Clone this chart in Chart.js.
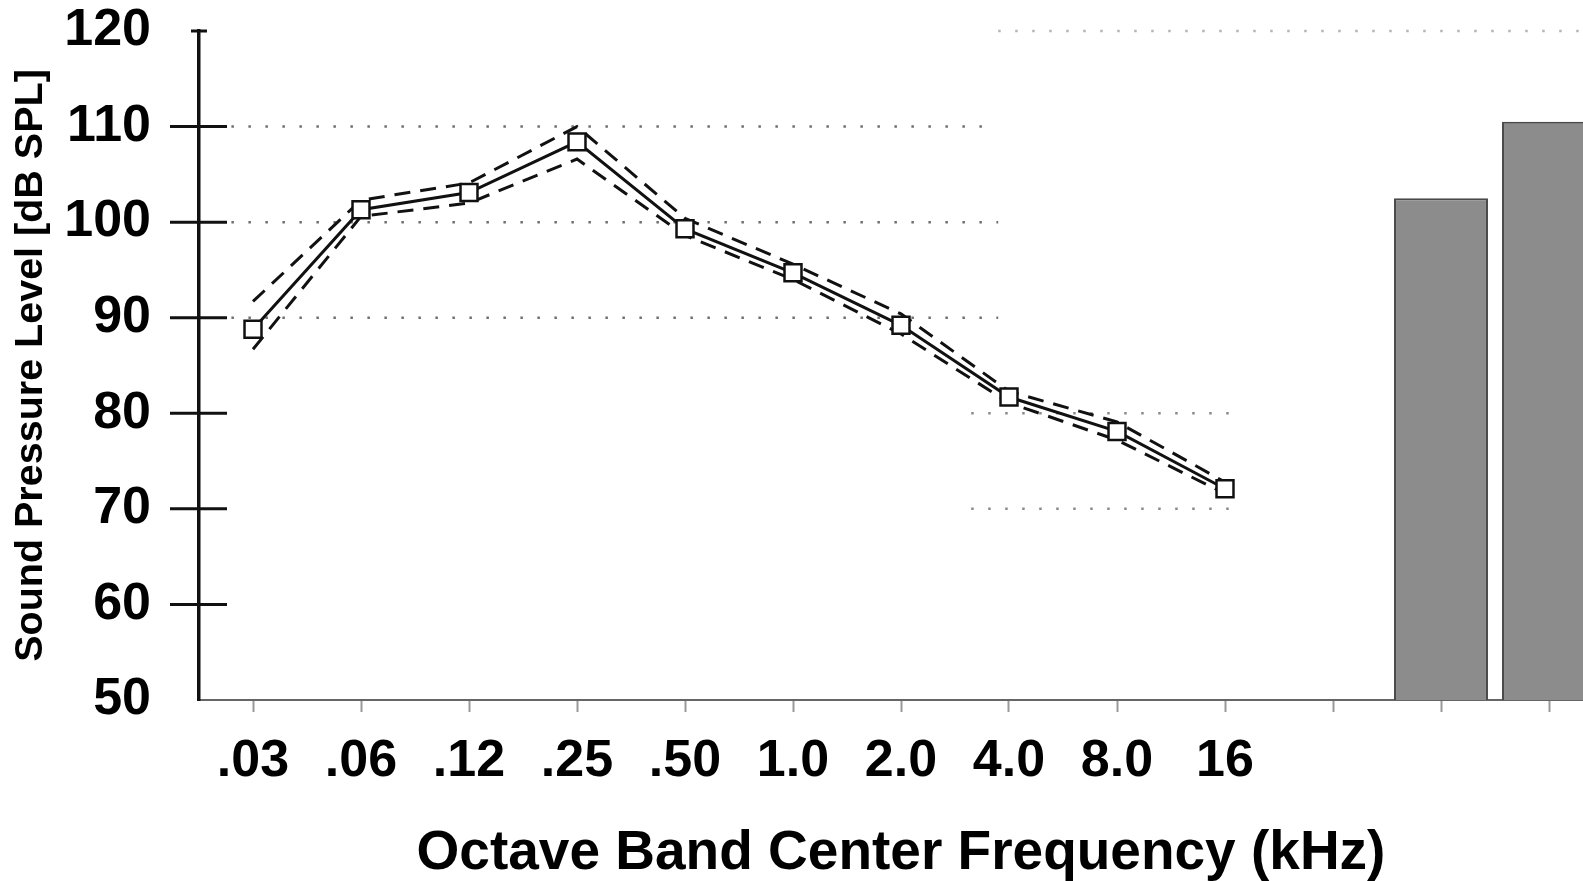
<!DOCTYPE html>
<html>
<head>
<meta charset="utf-8">
<title>Octave band sound pressure level</title>
<script src="https://cdn.jsdelivr.net/npm/chart.js@4.4.1/dist/chart.umd.min.js"></script>
<style>
  html, body { margin: 0; padding: 0; background: #fff; overflow: hidden; }
  #spl-chart { display: block; }
</style>
</head>
<body>
<canvas id="spl-chart" width="1620" height="881"></canvas>
<script>
// --- DATA ---
const bandLabels = ['.03', '.06', '.12', '.25', '.50', '1.0', '2.0', '4.0', '8.0', '16', '', '', ''];
const meanLevels = [88.8, 101.3, 103.1, 108.4, 99.3, 94.7, 89.2, 81.7, 78.1, 72.1];
const upperLevels = [91.7, 102.3, 104.1, 110.0, 100.4, 95.6, 90.4, 82.3, 79.1, 72.8];
const lowerLevels = [86.7, 100.6, 102.0, 106.6, 98.6, 94.0, 88.3, 81.1, 77.2, 71.6];
const overallLevels = [null, null, null, null, null, null, null, null, null, null, null, 102.5, 110.5];
const yTicks = [50, 60, 70, 80, 90, 100, 110, 120];

// dotted background rows (value + category span), leftovers of the scanned page
const dottedRows = [
    { value: 120, from: 6.9, to: 12.6, color: '#b5b5b5' },
    { value: 110, from: -0.2, to: 6.85, color: '#6f6f6f' },
    { value: 100, from: -0.2, to: 6.9, color: '#6f6f6f' },
    { value: 90, from: -0.2, to: 6.9, color: '#6f6f6f' },
    { value: 80, from: 6.65, to: 9.15, color: '#8a8a8a' },
    { value: 70, from: 6.65, to: 9.15, color: '#8a8a8a' }
];

const FONT = 'Liberation Sans, Arial, Helvetica, sans-serif';

// --- PLUGIN: dotted rows + ticks crossing the y axis ---
const axisMarks = {
    id: 'axisMarks',
    beforeDatasetsDraw(chart) {
        const { ctx, scales: { x, y } } = chart;
        ctx.save();
        ctx.lineWidth = 2.5;
        ctx.setLineDash([2.5, 14.5]);
        dottedRows.forEach(row => {
            const py = y.getPixelForValue(row.value);
            ctx.strokeStyle = row.color;
            ctx.beginPath();
            ctx.moveTo(x.getPixelForValue(row.from), py);
            ctx.lineTo(x.getPixelForValue(row.to), py);
            ctx.stroke();
        });
        ctx.restore();
    },
    afterDraw(chart) {
        const { ctx, chartArea, scales: { y } } = chart;
        const ax = chartArea.left;
        ctx.save();
        ctx.strokeStyle = '#111';
        ctx.lineWidth = 3;
        yTicks.forEach(v => {
            if (v === 50) return;
            const py = y.getPixelForValue(v);
            const left = v === 120 ? 8 : 29;
            const right = v === 120 ? 8 : 28;
            ctx.beginPath();
            ctx.moveTo(ax - left, py);
            ctx.lineTo(ax + right, py);
            ctx.stroke();
        });
        ctx.restore();
    }
};

// --- CHART ---
function lineSet(label, data, dashed) {
    return {
        type: 'line',
        label: label,
        data: data,
        borderColor: '#111',
        borderWidth: 3,
        borderDash: dashed ? [16, 10] : [],
        tension: 0,
        fill: false,
        pointRadius: dashed ? 0 : 12,
        pointStyle: 'rect',
        pointBackgroundColor: '#fff',
        pointBorderColor: '#111',
        pointBorderWidth: 2.5,
        order: dashed ? 1 : 0
    };
}

function initChart() {
    const ctx = document.getElementById('spl-chart').getContext('2d');
    new Chart(ctx, {
        type: 'bar',
        data: {
            labels: bandLabels,
            datasets: [
                lineSet('Mean', meanLevels, false),
                lineSet('Upper', upperLevels, true),
                lineSet('Lower', lowerLevels, true),
                {
                    type: 'bar',
                    label: 'Overall',
                    data: overallLevels,
                    backgroundColor: '#8c8c8c',
                    borderColor: '#4a4a4a',
                    borderWidth: 2,
                    barPercentage: 0.87,
                    categoryPercentage: 1,
                    order: 2
                }
            ]
        },
        options: {
            responsive: false,
            animation: false,
            layout: { padding: { top: 31, right: 17, left: 0, bottom: 0 } },
            plugins: { legend: { display: false }, tooltip: { enabled: false } },
            scales: {
                x: {
                    offset: true,
                    afterFit: s => { s.height = 181; },
                    ticks: {
                        color: '#000', padding: 24, autoSkip: false, maxRotation: 0,
                        font: { family: FONT, size: 52, weight: 'bold', lineHeight: 1 }
                    },
                    grid: { drawOnChartArea: false, offset: false, tickLength: 12, tickWidth: 2, tickColor: '#999' },
                    border: { color: '#666', width: 2 },
                    title: {
                        display: true,
                        text: 'Octave Band Center Frequency (kHz)',
                        color: '#000',
                        padding: { top: 0, bottom: 0 },
                        font: { family: FONT, size: 55, weight: 'bold', lineHeight: 1 }
                    }
                },
                y: {
                    min: 50,
                    max: 120,
                    afterFit: s => { s.width = 199; s.paddingTop = 0; s.paddingBottom = 0; },
                    afterBuildTicks: s => { s.ticks = yTicks.map(v => ({ value: v })); },
                    ticks: {
                        color: '#000', padding: 48,
                        font: { family: FONT, size: 52, weight: 'bold', lineHeight: 1 }
                    },
                    grid: { drawOnChartArea: false, drawTicks: false },
                    border: { display: true, color: '#111', width: 3.5 },
                    title: {
                        display: true,
                        text: 'Sound Pressure Level [dB SPL]',
                        color: '#000',
                        padding: { top: 11, bottom: 0 },
                        font: { family: FONT, size: 39.5, weight: 'bold', lineHeight: 1 }
                    }
                }
            }
        },
        plugins: [axisMarks]
    });
}

initChart();
</script>
</body>
</html>
